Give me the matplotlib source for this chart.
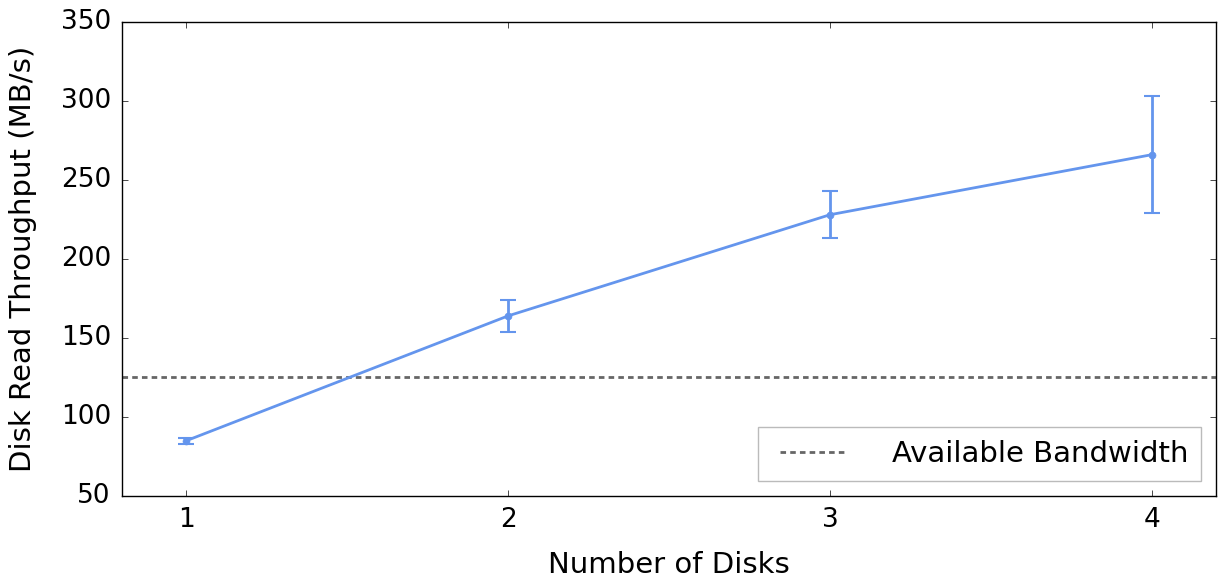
import matplotlib
import matplotlib.pyplot as plt

matplotlib.use("Agg")

disks = [1, 2, 3, 4]
throughput = [85, 164, 228, 266]
throughput_err = [2, 10, 15, 37]
available_bandwidth = 125

plt.style.use("classic")
plt.rcParams["font.family"] = "DejaVu Sans"
plt.rcParams["font.size"] = 21

fig, ax = plt.subplots(figsize=(12.25, 5.86), dpi=100)
fig.patch.set_facecolor("white")
fig.subplots_adjust(left=0.0996, right=0.9927, top=0.9625, bottom=0.1536)

ax.errorbar(disks, throughput, yerr=throughput_err, color="cornflowerblue",
            ecolor="cornflowerblue", marker="o", markersize=5,
            markeredgecolor="cornflowerblue", linewidth=2, elinewidth=2,
            capsize=5.5, capthick=1.5)
ax.axhline(available_bandwidth, color="#666666", linestyle="--", linewidth=2,
           dashes=(4, 3), label="Available Bandwidth")

ax.set_xlim(0.8, 4.2)
ax.set_ylim(50, 350)
ax.set_xticks(disks)
ax.set_xlabel("Number of Disks", labelpad=13)
ax.set_ylabel("Disk Read Throughput (MB/s)", labelpad=17)
ax.tick_params(axis="both", which="major", pad=8, labelsize=19)

ax.legend(loc="lower right", frameon=True, fancybox=False, handlelength=2.9,
          handletextpad=1.25, fontsize=21, edgecolor="#bbbbbb", borderpad=0.45,
          borderaxespad=0.5)

fig.savefig("out.png", facecolor="white")
